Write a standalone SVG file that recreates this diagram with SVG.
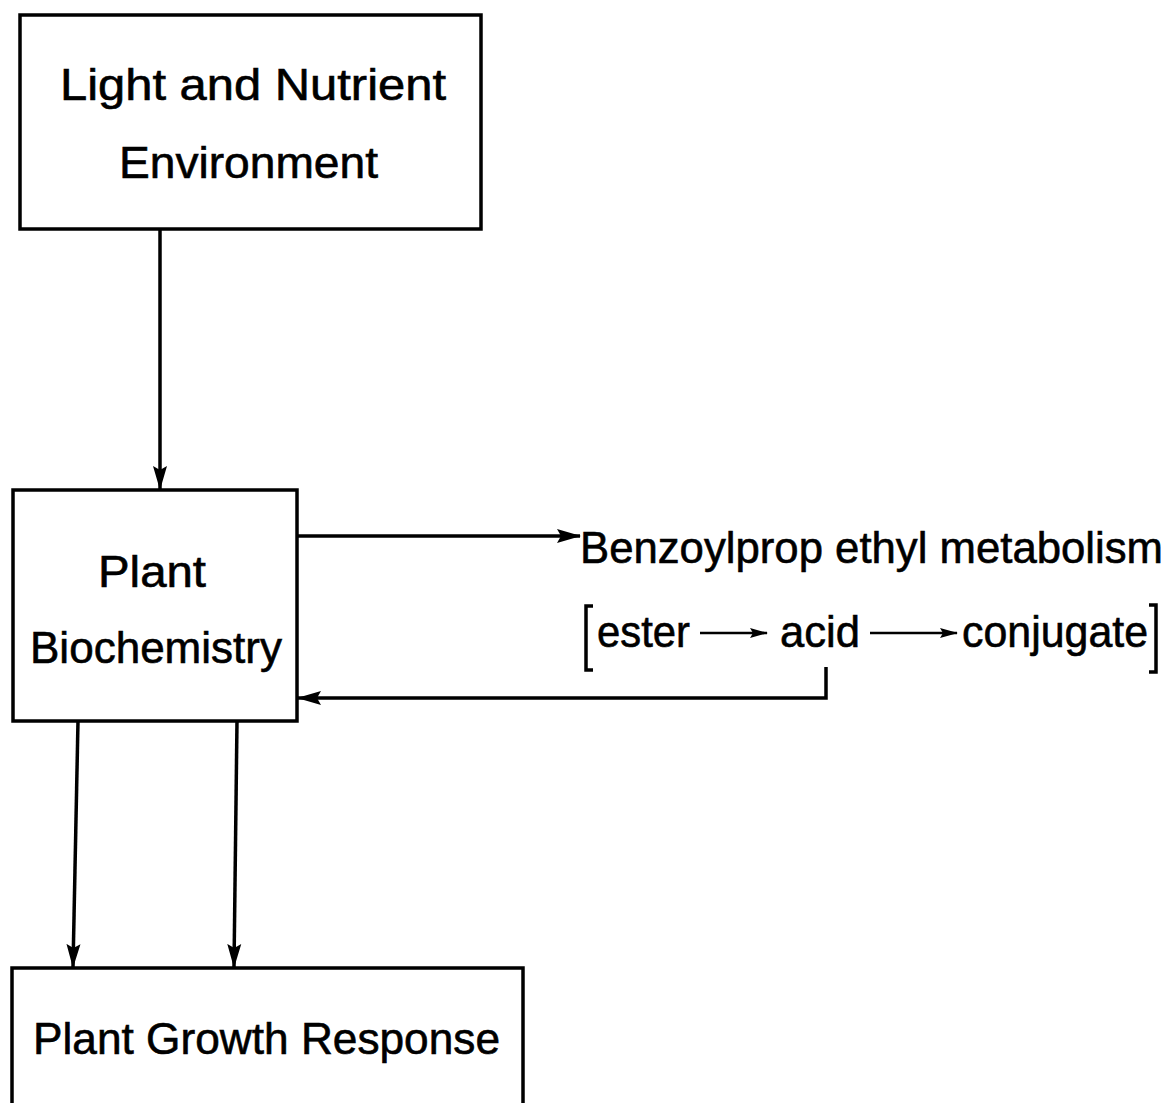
<svg xmlns="http://www.w3.org/2000/svg" width="1171" height="1103" viewBox="0 0 1171 1103">
<style>
.box{fill:none;stroke:#000;stroke-width:3.5}
.t{font-family:"Liberation Sans",Arial,sans-serif;font-size:44px;fill:#000;stroke:#000;stroke-width:0.6}
.c{fill:none;stroke:#000;stroke-width:3.5}
.s{fill:none;stroke:#000;stroke-width:2.5}
</style>
<defs>
<marker id="ah" markerUnits="userSpaceOnUse" markerWidth="24" markerHeight="16" viewBox="0 0 24 16" refX="23" refY="8" orient="auto">
<path d="M0,1 L24,8 L0,15 L4,8 Z" fill="#000"/>
</marker>
<marker id="sh" markerUnits="userSpaceOnUse" markerWidth="18" markerHeight="12" viewBox="0 0 18 12" refX="17" refY="6" orient="auto">
<path d="M0,1 L18,6 L0,11 L3,6 Z" fill="#000"/>
</marker>
</defs>
<rect width="1171" height="1103" fill="#fff"/>
<g id="light">
<rect class="box" x="20" y="15" width="461" height="214"/>
<text class="t" x="60" y="100" textLength="386" lengthAdjust="spacingAndGlyphs">Light and Nutrient</text>
<text class="t" x="119" y="178" textLength="259" lengthAdjust="spacingAndGlyphs">Environment</text>
</g>
<g id="biochem">
<rect class="box" x="13" y="490" width="284" height="231"/>
<text class="t" x="98" y="587" textLength="108" lengthAdjust="spacingAndGlyphs">Plant</text>
<text class="t" x="30" y="663" textLength="252" lengthAdjust="spacingAndGlyphs">Biochemistry</text>
</g>
<g id="growth">
<rect class="box" x="12" y="968" width="511" height="140"/>
<text class="t" x="33" y="1054" textLength="467" lengthAdjust="spacingAndGlyphs">Plant Growth  Response</text>
</g>
<g id="metabolism">
<text class="t" x="580" y="563" textLength="583" lengthAdjust="spacingAndGlyphs">Benzoylprop ethyl metabolism</text>
<path class="c" d="M593,606 L586,606 L586,670 L593,670"/>
<text class="t" x="597" y="647" textLength="93" lengthAdjust="spacingAndGlyphs">ester</text>
<text class="t" x="780" y="647" textLength="80" lengthAdjust="spacingAndGlyphs">acid</text>
<text class="t" x="962" y="647" textLength="186" lengthAdjust="spacingAndGlyphs">conjugate</text>
<path class="c" d="M1149,605 L1156,605 L1156,672 L1149,672"/>
<line class="s" x1="700" y1="633" x2="767" y2="633" marker-end="url(#sh)"/>
<line class="s" x1="870" y1="633" x2="957" y2="633" marker-end="url(#sh)"/>
</g>
<g id="connectors">
<line class="c" x1="160" y1="229" x2="160" y2="489" marker-end="url(#ah)"/>
<line class="c" x1="297" y1="536" x2="580" y2="536" marker-end="url(#ah)"/>
<polyline class="c" points="826,667 826,698 298,698" marker-end="url(#ah)"/>
<line class="c" x1="78" y1="721" x2="73" y2="967" marker-end="url(#ah)"/>
<line class="c" x1="237" y1="721" x2="234" y2="967" marker-end="url(#ah)"/>
</g>
</svg>
